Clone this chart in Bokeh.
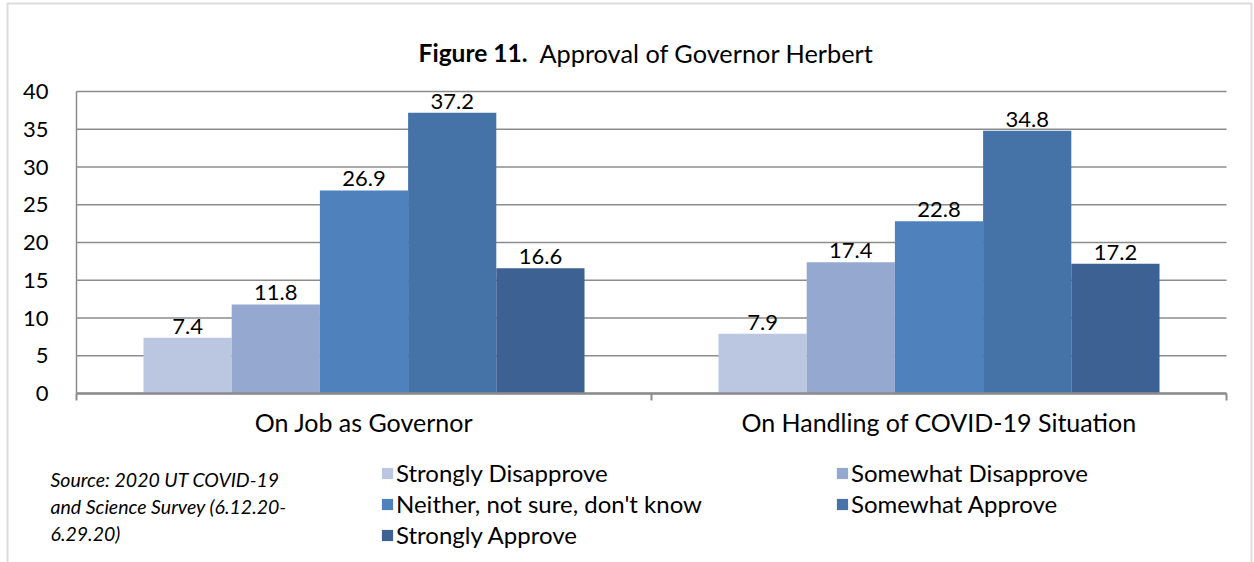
from bokeh.plotting import figure
from bokeh.models import (Range1d, FixedTicker, Label, LabelSet, ColumnDataSource,
                          Legend, LegendItem, BoxAnnotation, LinearAxis)
from bokeh.core.properties import value
from bokeh.embed import file_html
from bokeh.resources import INLINE

# ---- data ----
categories = ["On Job as Governor", "On Handling of COVID-19 Situation"]
series = ["Strongly Disapprove", "Somewhat Disapprove", "Neither, not sure, don't know",
          "Somewhat Approve", "Strongly Approve"]
values = {
    "Strongly Disapprove": [7.4, 7.9],
    "Somewhat Disapprove": [11.8, 17.4],
    "Neither, not sure, don't know": [26.9, 22.8],
    "Somewhat Approve": [37.2, 34.8],
    "Strongly Approve": [16.6, 17.2],
}
colors = ["#BBC7E0", "#95A9D0", "#4F81BD", "#4573A8", "#3C6192"]
y_ticks = [0, 5, 10, 15, 20, 25, 30, 35, 40]
title_bold = "Figure 11."
title_rest = "Approval of Governor Herbert"
source_lines = ["Source: 2020 UT COVID-19", "and Science Survey (6.12.20-", "6.29.20)"]

FONT = "Lato"
W, H = 1254, 562
FL, FR, FT, FB = 76, 1226, 91, 393  # plot-area edges in canvas px
YMAX = 40
NCAT = len(categories)

# The frame covers the whole canvas; the ranges are chosen so that the
# data region (0..NCAT, 0..YMAX) lands on the plot area.
xs_per = (FR - FL) / NCAT
ys_per = (FB - FT) / YMAX
x0 = -FL / xs_per
y0 = -(H - FB) / ys_per
p = figure(width=W, height=H, output_backend="svg", toolbar_location=None,
           x_range=Range1d(x0, x0 + W / xs_per), y_range=Range1d(y0, y0 + H / ys_per),
           min_border=0, x_axis_location=None, y_axis_location=None)
p.outline_line_color = None
p.background_fill_color = "white"
p.border_fill_color = "white"
p.grid.grid_line_color = None
p.grid.visible = False

GRAY = "#8C8C8C"
# horizontal gridlines limited to the plot area
p.segment(x0=[0] * len(y_ticks), x1=[NCAT] * len(y_ticks), y0=y_ticks, y1=y_ticks,
          line_color=GRAY, line_width=1.5, level="underlay")

bar_w = 0.1534
renderers = []
for i, s in enumerate(series):
    xs = [c + 0.5 + (i - 2) * bar_w for c in range(NCAT)]
    src = ColumnDataSource(dict(x=xs, top=values[s], lbl=[f"{v:.1f}" for v in values[s]]))
    r = p.vbar(x="x", top="top", width=bar_w, source=src, fill_color=colors[i],
               line_color=None)
    renderers.append(r)
    p.add_layout(LabelSet(x="x", y="top", text="lbl", source=src, text_align="center",
                          text_baseline="bottom", y_offset=4, text_font=value(FONT),
                          text_font_size="22px", text_color="black"))

yaxis = LinearAxis(fixed_location=0, bounds=(0, YMAX), ticker=FixedTicker(ticks=y_ticks),
                   major_tick_out=0, major_tick_in=0, minor_tick_out=0, minor_tick_in=0,
                   major_label_standoff=28, major_label_text_font=FONT,
                   major_label_text_font_size="22px", major_label_text_color="black",
                   axis_line_color=GRAY, axis_line_width=1.5)
p.add_layout(yaxis, "left")

xaxis = LinearAxis(fixed_location=0, bounds=(0, NCAT),
                   ticker=FixedTicker(ticks=[c + 0.5 for c in range(NCAT)],
                                      minor_ticks=list(range(NCAT + 1))),
                   major_label_overrides={c + 0.5: categories[c] for c in range(NCAT)},
                   major_tick_out=0, major_tick_in=0, minor_tick_out=7, minor_tick_in=0,
                   minor_tick_line_color=GRAY, minor_tick_line_width=2,
                   axis_line_color=GRAY, axis_line_width=2.5,
                   major_label_standoff=6, major_label_text_font=FONT,
                   major_label_text_font_size="25px", major_label_text_color="black")
p.add_layout(xaxis, "below")


def sy(cy):
    return H - cy


# outer border
p.add_layout(BoxAnnotation(left=7, right=1251, top=sy(3), bottom=-10,
                           left_units="screen", right_units="screen",
                           top_units="screen", bottom_units="screen",
                           fill_color=None, fill_alpha=0, line_color=GRAY, line_width=2))

# title
p.add_layout(Label(x=527, y=sy(52), x_units="screen", y_units="screen",
                   text=title_bold, text_font=FONT, text_font_style="bold",
                   text_font_size="24.5px", text_align="right", text_baseline="alphabetic",
                   text_color="black"))
p.add_layout(Label(x=539, y=sy(52), x_units="screen", y_units="screen",
                   text=title_rest, text_font=FONT, text_font_size="25.3px",
                   text_align="left", text_baseline="alphabetic", text_color="black"))

# source note
for k, line in enumerate(source_lines):
    p.add_layout(Label(x=50, y=sy(479 + 27 * k), x_units="screen", y_units="screen",
                       text=line, text_font=FONT, text_font_style="italic",
                       text_font_size="19.5px", text_align="left", text_baseline="middle",
                       text_color="black"))


def make_legend(idx, cx, bottom_cy):
    return Legend(items=[LegendItem(label=series[i], renderers=[renderers[i]]) for i in idx],
                  location=(cx, sy(bottom_cy)),
                  orientation="vertical", glyph_width=14, glyph_height=14,
                  label_standoff=2, label_height=20, spacing=2, padding=0, margin=0,
                  border_line_color=None, background_fill_alpha=0,
                  label_text_font=FONT, label_text_font_size="24px",
                  label_text_color="black")


p.add_layout(make_legend([0, 2, 4], 380, 549))
p.add_layout(make_legend([1, 3], 835, 518))

open("out.html", "w").write(file_html(p, INLINE))
